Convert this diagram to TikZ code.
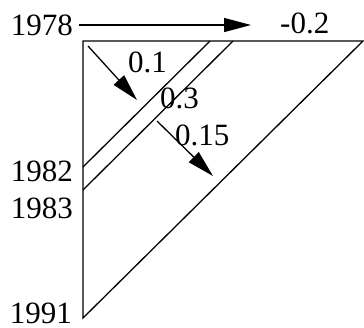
\documentclass[tikz,border=0pt]{standalone}
\usepackage{fontspec}
\setmainfont{Liberation Serif}
\usetikzlibrary{arrows.meta}
\begin{document}
\begin{tikzpicture}[x=1pt,y=-1pt,
  lbl/.style={inner sep=0pt,font=\fontsize{31}{31}\selectfont},
  ln/.style={line width=1.3pt},
  arr/.style={ln,-{Triangle[length=27pt,width=14pt]}}]
\useasboundingbox (0,0) rectangle (364,327);
% triangle vertices
\coordinate (tl) at (83,41);
\coordinate (tr) at (363,41);
\coordinate (bl) at (83,318);
\coordinate (a1) at (210,41);
\coordinate (b1) at (83,167);
\coordinate (a2) at (233,41);
\coordinate (b2) at (83,190);
\draw[ln,line join=miter] (tr) -- (tl) -- (bl) -- cycle;
\draw[ln] (a1) -- (b1);
\draw[ln] (a2) -- (b2);
% labels
\node[lbl,anchor=base east] (y78) at (73,35) {1978};
\node[lbl,anchor=base east] (y82) at (73,181) {1982};
\node[lbl,anchor=base east] (y83) at (73,218) {1983};
\node[lbl,anchor=base east] (y91) at (72,323) {1991};
\node[lbl,anchor=base west] (m02) at (280,33) {-0.2};
\node[lbl,anchor=base west] (p01) at (128,72) {0.1};
\node[lbl,anchor=base west] (p03) at (160,108) {0.3};
\node[lbl,anchor=base west] (p015) at (175,145) {0.15};
% arrows
\coordinate (s0) at (79,25);
\coordinate (e0) at (251,25);
\coordinate (s1) at (88,46);
\coordinate (e1) at (137,100);
\coordinate (s2) at (157,121);
\coordinate (e2) at (213,176);
\draw[arr] (s0) -- (e0);
\draw[arr] (s1) -- (e1);
\draw[arr] (s2) -- (e2);
\end{tikzpicture}
\end{document}
